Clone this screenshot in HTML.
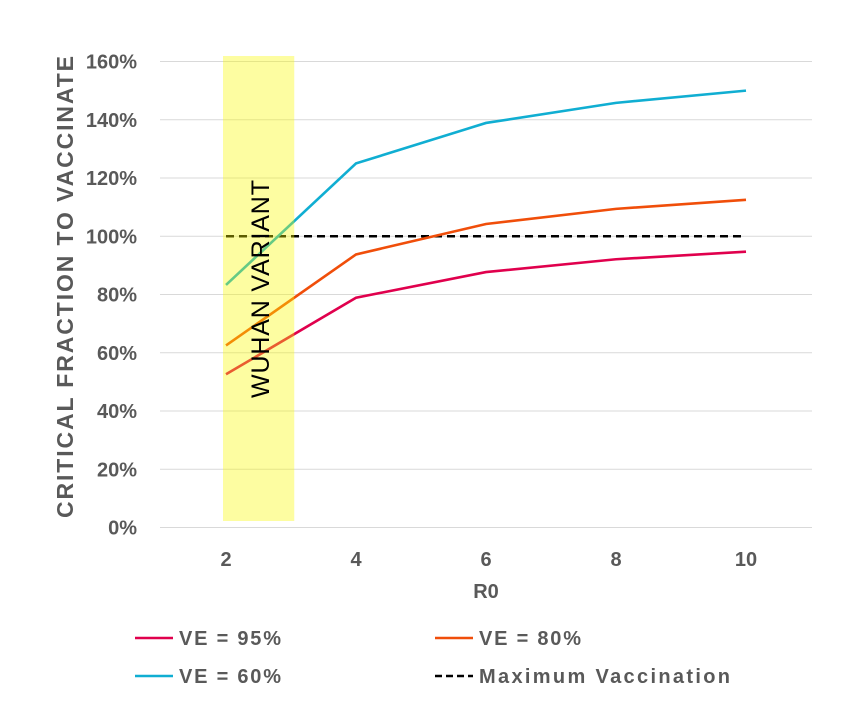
<!DOCTYPE html>
<html><head><meta charset="utf-8"><style>
body{margin:0;background:#fff;}
svg text{font-family:"Liberation Sans",sans-serif;}
</style></head><body>
<svg id="chart" width="846" height="722" xmlns="http://www.w3.org/2000/svg"></svg>
<script>
const categories=[2,4,6,8,10];
const ve95=[52.6,78.9,87.7,92.1,94.7];
const ve80=[62.5,93.75,104.2,109.4,112.5];
const ve60=[83.3,125,138.9,145.8,150];
const maxVacc=[100,100,100,100,100];
const yTicks=[0,20,40,60,80,100,120,140,160];
const highlightRange=[2,3.05];
const svg=document.getElementById('chart');
const NS='http://www.w3.org/2000/svg';
const xS=v=>226+(v-2)*65;
const yS=v=>527.5-v*2.9125;
function mk(t,a,p){const e=document.createElementNS(NS,t);for(const k in a)e.setAttribute(k,a[k]);(p||svg).appendChild(e);return e;}
yTicks.forEach(t=>{
  const g=mk('line',{x1:160,x2:812,y1:yS(t),y2:yS(t),stroke:'#d9d9d9','stroke-width':1});
  
  
  const l=mk('text',{x:137,y:yS(t)+7,'text-anchor':'end','font-size':20,'font-weight':'bold',fill:'#595959'});
  l.textContent=t+'%';
  
  
});
categories.forEach(c=>{
  const l=mk('text',{x:xS(c),y:566,'text-anchor':'middle','font-size':20,'font-weight':'bold',fill:'#595959'});
  l.textContent=c;
  
  
});
function series(vals,color,name,dash){
  const p=mk('polyline',{points:vals.map((v,i)=>xS(categories[i])+','+yS(v)).join(' '),fill:'none',stroke:color,'stroke-width':2.6});
  if(dash)p.setAttribute('stroke-dasharray',dash);
  
  
}
series(maxVacc,'#000','line-max-vaccination','8,5');
series(ve95,'#e0004d','line-ve-95');
series(ve80,'#f04e0a','line-ve-80');
series(ve60,'#10aed2','line-ve-60');
const hl=mk('rect',{x:xS(highlightRange[0])-3,y:56,width:xS(highlightRange[1])-xS(highlightRange[0])+3,height:465,fill:'rgb(250,250,0)','fill-opacity':0.37});


const wt=mk('text',{x:0,y:0,'font-size':25,fill:'#000','text-anchor':'middle',textLength:218,transform:'translate(269,289) rotate(-90)'});
wt.textContent='WUHAN VARIANT';


const yt=mk('text',{x:0,y:0,'font-size':23,'font-weight':'bold',fill:'#595959','text-anchor':'middle',textLength:462,transform:'translate(73,287) rotate(-90)'});
yt.textContent='CRITICAL FRACTION TO VACCINATE';


const xt=mk('text',{x:486,y:598,'font-size':20,'font-weight':'bold',fill:'#595959','text-anchor':'middle'});
xt.textContent='R0';


const legend=[['VE = 95%','#e0004d',135,638,null,102],['VE = 80%','#f04e0a',435,638,null,102],['VE = 60%','#10aed2',135,676,null,102],['Maximum Vaccination','#000',435,676,'8,5',251]];
legend.forEach(([t,c,x,y,d,w])=>{
  const g=mk('g',{});
  
  
  const ln=mk('line',{x1:x,x2:x+38,y1:y,y2:y,stroke:c,'stroke-width':2.6},g);
  if(d)ln.setAttribute('stroke-dasharray','7,4');
  const tx=mk('text',{x:x+44,y:y+7,'font-size':20,'font-weight':'bold',fill:'#595959',textLength:w},g);
  tx.textContent=t;
});
</script>
</body></html>
